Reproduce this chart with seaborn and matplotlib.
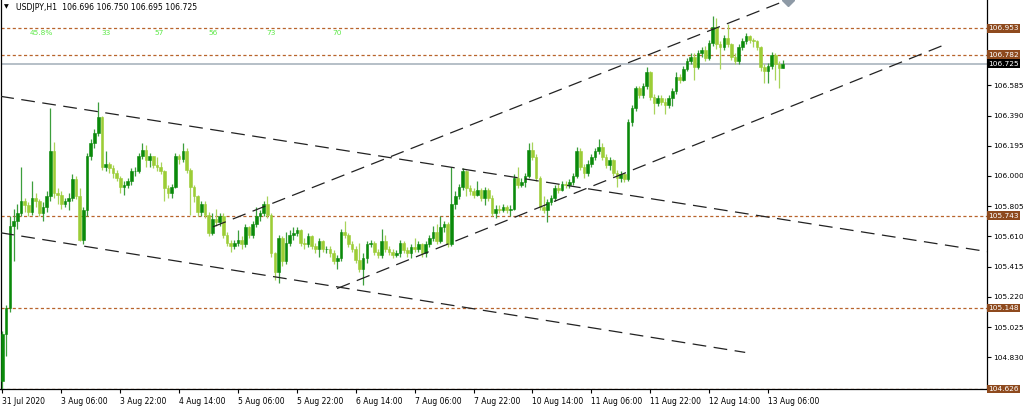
#%% Modules
import matplotlib
matplotlib.use('Agg')
import matplotlib.pyplot as plt
import seaborn as sns
import numpy as np
import pandas as pd

#%% Data (H1 bars, USDJPY, 31 Jul 14:00 -> 13 Aug 10:00)
first_open = 104.68

closes = [
    104.98, 105.15, 105.68, 105.71, 105.76, 105.84, 105.81, 105.77, 105.86, 105.84,
    105.76, 105.80, 105.87, 106.16, 105.89, 105.88, 105.82, 105.84, 105.86, 105.98,
    105.87, 105.59, 105.78, 106.13, 106.21, 106.28, 106.38, 106.06, 106.08, 106.05,
    106.02, 105.99, 105.93, 105.94, 105.97, 106.03, 106.03, 106.13, 106.17, 106.10,
    106.13, 106.07, 106.06, 106.03, 105.92, 105.89, 105.93, 106.13, 106.11, 106.16,
    106.04, 105.93, 105.87, 105.77, 105.82, 105.75, 105.63, 105.72, 105.70, 105.74,
    105.62, 105.57, 105.55, 105.57, 105.59, 105.56, 105.67, 105.62, 105.69, 105.74,
    105.76, 105.82, 105.75, 105.50, 105.38, 105.60, 105.45, 105.57, 105.62, 105.63,
    105.65, 105.57, 105.56, 105.61, 105.55, 105.53, 105.58, 105.53, 105.53, 105.50,
    105.45, 105.47, 105.64, 105.62, 105.56, 105.53, 105.46, 105.40, 105.47, 105.56,
    105.57, 105.51, 105.49, 105.58, 105.53, 105.51, 105.49, 105.50, 105.57, 105.52,
    105.50, 105.54, 105.53, 105.56, 105.50, 105.56, 105.60, 105.64, 105.58, 105.67,
    105.69, 105.56, 105.82, 105.87, 105.93, 106.03, 105.92, 105.90, 105.88, 105.91,
    105.86, 105.91, 105.86, 105.76, 105.79, 105.78, 105.80, 105.78, 105.79, 105.99,
    105.94, 105.96, 106.00, 106.17, 106.12, 105.99, 105.80, 105.78, 105.83, 105.86,
    105.92, 105.91, 105.95, 105.94, 105.96, 106.00, 106.16, 106.06, 106.02, 106.08,
    106.12, 106.16, 106.19, 106.12, 106.07, 106.10, 106.02, 105.99, 106.01, 105.98,
    106.35, 106.44, 106.57, 106.52, 106.58, 106.67, 106.51, 106.47, 106.50, 106.48,
    106.46, 106.50, 106.55, 106.64, 106.62, 106.69, 106.74, 106.77, 106.70, 106.79,
    106.81, 106.76, 106.86, 106.96, 106.85, 106.83, 106.89, 106.85, 106.77, 106.74,
    106.83, 106.87, 106.90, 106.88, 106.87, 106.83, 106.70, 106.68, 106.71, 106.78,
    106.72, 106.696, 106.725,
]

highs = [
    105.00, 105.17, 105.74, 105.79, 105.82, 106.06, 105.86, 105.83, 105.97, 105.89,
    105.85, 105.83, 105.90, 106.44, 106.22, 105.92, 105.90, 105.86, 105.89, 106.01,
    106.00, 105.92, 105.80, 106.15, 106.24, 106.30, 106.48, 106.39, 106.16, 106.09,
    106.07, 106.04, 106.00, 105.97, 105.99, 106.05, 106.06, 106.15, 106.21, 106.20,
    106.15, 106.13, 106.12, 106.09, 106.04, 105.94, 105.95, 106.15, 106.14, 106.21,
    106.18, 106.05, 105.94, 105.88, 105.84, 105.84, 105.77, 105.76, 105.79, 105.76,
    105.76, 105.64, 105.59, 105.59, 105.65, 105.61, 105.69, 105.68, 105.71, 105.80,
    105.78, 105.84, 105.87, 105.76, 105.51, 105.62, 105.61, 105.64, 105.65, 105.67,
    105.67, 105.66, 105.60, 105.63, 105.62, 105.57, 105.60, 105.59, 105.55, 105.55,
    105.52, 105.49, 105.66, 105.71, 105.63, 105.58, 105.55, 105.57, 105.50, 105.58,
    105.59, 105.58, 105.53, 105.66, 105.62, 105.55, 105.53, 105.52, 105.59, 105.58,
    105.54, 105.56, 105.60, 105.58, 105.57, 105.58, 105.62, 105.68, 105.69, 105.74,
    105.71, 105.70, 106.06, 105.90, 105.95, 106.05, 106.04, 105.94, 105.92, 105.97,
    105.92, 105.93, 105.92, 105.88, 105.81, 105.81, 105.82, 105.81, 105.81, 106.01,
    106.06, 105.99, 106.02, 106.21, 106.22, 106.14, 106.00, 105.87, 105.85, 105.88,
    105.94, 105.95, 105.97, 105.97, 105.98, 106.02, 106.19, 106.18, 106.08, 106.10,
    106.14, 106.18, 106.24, 106.21, 106.14, 106.12, 106.11, 106.04, 106.03, 106.02,
    106.37, 106.46, 106.58, 106.58, 106.60, 106.70, 106.68, 106.53, 106.52, 106.52,
    106.50, 106.52, 106.57, 106.67, 106.66, 106.71, 106.76, 106.79, 106.79, 106.81,
    106.83, 106.84, 106.88, 107.03, 107.02, 106.87, 106.91, 106.98, 106.86, 106.79,
    106.85, 106.89, 106.92, 106.91, 106.89, 106.88, 106.84, 106.72, 106.73, 106.80,
    106.79, 106.74, 106.75,
]

lows = [
    104.626, 104.84, 105.12, 105.45, 105.66, 105.74, 105.77, 105.74, 105.75, 105.80,
    105.74, 105.71, 105.77, 105.84, 105.86, 105.82, 105.79, 105.80, 105.78, 105.84,
    105.85, 105.58, 105.56, 105.74, 106.10, 106.18, 106.26, 106.04, 106.03, 106.02,
    105.99, 105.97, 105.89, 105.88, 105.92, 105.94, 106.00, 106.02, 106.11, 106.06,
    106.06, 106.05, 106.03, 106.01, 105.84, 105.86, 105.86, 105.92, 106.08, 106.09,
    106.02, 105.75, 105.83, 105.74, 105.74, 105.73, 105.61, 105.62, 105.68, 105.68,
    105.60, 105.55, 105.51, 105.53, 105.55, 105.53, 105.54, 105.60, 105.60, 105.67,
    105.71, 105.74, 105.73, 105.48, 105.33, 105.31, 105.42, 105.43, 105.55, 105.59,
    105.61, 105.55, 105.53, 105.54, 105.53, 105.50, 105.48, 105.51, 105.50, 105.48,
    105.43, 105.40, 105.45, 105.60, 105.54, 105.51, 105.44, 105.38, 105.30, 105.44,
    105.54, 105.49, 105.47, 105.47, 105.51, 105.49, 105.47, 105.48, 105.48, 105.50,
    105.48, 105.47, 105.51, 105.51, 105.48, 105.48, 105.54, 105.58, 105.56, 105.57,
    105.64, 105.54, 105.55, 105.79, 105.85, 105.91, 105.87, 105.88, 105.86, 105.87,
    105.84, 105.81, 105.84, 105.74, 105.73, 105.76, 105.77, 105.76, 105.74, 105.78,
    105.92, 105.93, 105.93, 105.99, 106.10, 105.97, 105.78, 105.76, 105.70, 105.81,
    105.84, 105.89, 105.90, 105.92, 105.92, 105.94, 105.99, 106.04, 105.99, 106.00,
    106.06, 106.10, 106.14, 106.10, 106.05, 106.04, 106.00, 105.93, 105.96, 105.96,
    105.97, 106.32, 106.42, 106.50, 106.50, 106.56, 106.49, 106.40, 106.45, 106.46,
    106.40, 106.44, 106.45, 106.53, 106.60, 106.61, 106.68, 106.72, 106.62, 106.69,
    106.77, 106.74, 106.75, 106.84, 106.82, 106.69, 106.81, 106.83, 106.75, 106.72,
    106.72, 106.81, 106.85, 106.86, 106.83, 106.81, 106.68, 106.60, 106.60, 106.69,
    106.62, 106.565, 106.695,
]

time_labels = ['31 Jul 2020', '3 Aug 06:00', '3 Aug 22:00', '4 Aug 14:00', '5 Aug 06:00',
               '5 Aug 22:00', '6 Aug 14:00', '7 Aug 06:00', '7 Aug 22:00', '10 Aug 14:00',
               '11 Aug 06:00', '11 Aug 22:00', '12 Aug 14:00', '13 Aug 06:00']
bars_per_label = 16

price_ticks = [106.585, 106.390, 106.195, 106.000, 105.805,
               105.610, 105.415, 105.220, 105.025, 104.830]
levels = [106.953, 106.782, 105.743, 105.148, 104.626]
last_price = 106.725
header = 'USDJPY,H1  106.696 106.750 106.695 106.725'

# percentage text objects (bar, price) drawn on the chart
pct_labels = ['45.8%', '33', '57', '56', '73', '70']
pct_bars = [10.7, 28.1, 42.5, 57.2, 73.0, 90.9]
pct_price = 106.925

# trend lines: (bar, price) anchors
upper_down = ([-0.6, 267.6], [106.514, 105.512])
lower_down = ([-0.6, 201.8], [105.634, 104.862])
upper_up = ([57.2, 213.5], [105.672, 107.138])
lower_up = ([90.9, 256.9], [105.274, 106.855])

#%% Frame
df = pd.DataFrame({'close': closes, 'high': highs, 'low': lows})
df['bar'] = np.arange(len(df))
df['open'] = [first_open] + closes[:-1]
df['high'] = np.maximum(df['high'], df[['open', 'close']].max(axis=1))
df['low'] = np.minimum(df['low'], df[['open', 'close']].min(axis=1))

DARK = '#0a8a0a'
LIGHT = '#9ccd36'
BROWN = '#b8642c'
BOX = '#8e4a1e'
FS = 5.3

sns.set_theme(style='white')
plt.rcParams['font.family'] = ['DejaVu Sans']

fig = plt.figure(figsize=(10.23, 4.11), dpi=100)
ax = fig.add_axes([0.5 / 1023, 22 / 411, 986.5 / 1023, 389 / 411])

# horizontal levels and last price line
ax.axhline(last_price, color='#a9b4be', lw=1.2, zorder=1)
for lv in levels:
    ax.axhline(lv, color=BROWN, lw=0.9, ls=(0, (2.5, 2)), zorder=2)

# trend lines
for xs, ys in [upper_down, lower_down, upper_up, lower_up]:
    sns.lineplot(x=xs, y=ys, ax=ax, color='#222222', lw=0.9,
                 linestyle=(0, (11, 6)), zorder=5)
ax.plot(upper_up[0][1], upper_up[1][1], marker='D', ms=6, color='#8e9aa6',
        clip_on=False, zorder=6)

# candles
up = (df['close'] >= df['open']).to_numpy()
colors = np.where(up, DARK, LIGHT)
wick_colors = np.where(up, '#3c9e3c', '#a8d45a')
ax.vlines(df['bar'], df['low'], df['high'], colors=wick_colors, lw=0.9, zorder=3)
ax.bar(df['bar'], df['close'] - df['open'], bottom=df['open'], width=0.72,
       color=colors, edgecolor=colors, linewidth=0.4, zorder=4)

# percentage texts
for lab, b in zip(pct_labels, pct_bars):
    ax.text(b, pct_price, lab, color='#5fe84a', fontsize=FS, ha='center', va='center')

# header
ax.text(0.004, 0.982, '\u25bc', transform=ax.transAxes, fontsize=4.5,
        ha='left', va='center', color='black')
ax.text(0.016, 0.982, header, transform=ax.transAxes, fontsize=5.6,
        ha='left', va='center', color='black')

#%% Axes
ax.set_xlim(-0.54, 267.5)
ax.set_ylim(104.626, 107.135)

ax.yaxis.tick_right()
ax.set_yticks(price_ticks)
ax.set_yticklabels([f'{t:.3f}' for t in price_ticks])
ax.tick_params(axis='y', direction='out', length=3, width=0.8, pad=1.2,
               labelsize=FS, colors='black', right=True, left=False)

xt = [i * bars_per_label for i in range(len(time_labels))]
ax.set_xticks(xt)
ax.set_xticklabels(time_labels, ha='left')
ax.tick_params(axis='x', direction='out', length=3, width=0.8, pad=3,
               labelsize=5.5, colors='black', bottom=True)

for side in ['left', 'right', 'bottom']:
    ax.spines[side].set_visible(True)
    ax.spines[side].set_color('black')
    ax.spines[side].set_linewidth(0.9)
ax.spines['top'].set_visible(False)

# price boxes on the right scale
for lv in levels:
    ax.text(1.0012, lv, f'{lv:.3f}', transform=ax.get_yaxis_transform(), ha='left',
            va='center', fontsize=FS, color='white', clip_on=False, zorder=10,
            bbox=dict(boxstyle='square,pad=0.18', fc=BOX, ec='none'))
ax.text(1.0012, last_price, f'{last_price:.3f}', transform=ax.get_yaxis_transform(),
        ha='left', va='center', fontsize=FS, color='white', clip_on=False, zorder=10,
        bbox=dict(boxstyle='square,pad=0.18', fc='black', ec='none'))

fig.savefig('out.png', dpi=100)
